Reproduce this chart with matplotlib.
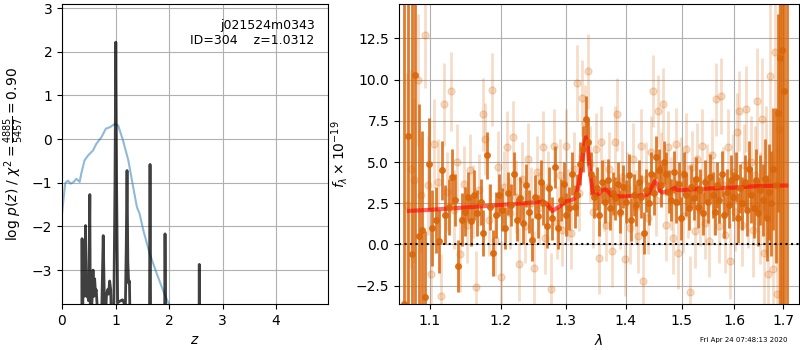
import numpy as np
import matplotlib
matplotlib.use('Agg')
from matplotlib import pyplot as plt
from matplotlib.ticker import FixedLocator, NullLocator, FixedFormatter

# left panel: redshift grid, prior-ish curve (blue) and log p(z) (dark)
z_prior = [0.0, 0.06, 0.11, 0.16, 0.22, 0.27, 0.33, 0.36, 0.42, 0.49, 0.58, 0.64, 0.74,
           0.82, 0.89, 0.99, 1.05, 1.14, 1.24, 1.33, 1.40, 1.45, 1.52, 1.64, 1.77, 1.89, 2.0, 2.05]
lnp_prior = [-1.71, -1.01, -0.95, -1.02, -0.98, -0.91, -0.98, -0.79, -0.49, -0.37, -0.26, -0.11, 0.05,
             0.24, 0.27, 0.35, 0.31, -0.03, -0.49, -1.10, -1.56, -1.71, -2.09, -2.63, -3.08, -3.47, -3.79, -4.0]

z_grid = [0.00, 0.36, 0.37, 0.375, 0.385, 0.39, 0.41, 0.425, 0.44, 0.455, 0.47, 0.48, 0.495, 0.51,
          0.52, 0.53, 0.545, 0.555, 0.58, 0.595, 0.61, 0.625, 0.64, 0.66, 0.69, 0.72, 0.745, 0.77,
          0.79, 0.81, 0.83, 0.85, 0.87, 0.89, 0.91, 0.93, 0.96, 0.99, 1.005, 1.02, 1.04, 1.07, 1.10,
          1.13, 1.16, 1.18, 1.20, 1.215, 1.23, 1.245, 1.26, 1.275, 1.30, 1.40, 1.62, 1.635, 1.645,
          1.655, 1.67, 1.80, 1.905, 1.918, 1.925, 1.935, 1.95, 2.2, 2.55, 2.565, 2.58, 2.8, 4.9]
logpz = [-12, -9, -5, -2.28, -5, -3.5, -3.6, -3.3, -1.98, -3.6, -3.4, -3.55, -3.7, -2.5,
         -1.27, -4.5, -6, -3.9, -3.0, -3.6, -3.2, -3.5, -3.45, -3.9, -6, -5, -3.8, -2.21,
         -3.6, -4.2, -3.6, -3.45, -3.55, -3.25, -3.45, -4.5, -5, -1.0, 2.22, -1.0, -3.75, -3.72, -3.70,
         -3.68, -3.75, -4.2, -2.5, -0.72, -2.8, -3.3, -3.25, -4.5, -7, -9, -8, -4, -0.58,
         -4, -8, -9, -8, -4, -2.17, -4, -8, -10, -8, -2.87, -8, -12, -14]

# right panel: dark (primary) spectrum points
wave_a = [1.066, 1.071, 1.076, 1.080, 1.085, 1.089, 1.094, 1.099, 1.103, 1.108, 1.112, 1.117, 1.121,
          1.126, 1.130, 1.135, 1.139, 1.144, 1.148, 1.153, 1.157, 1.162, 1.166, 1.171, 1.175, 1.180,
          1.184, 1.189, 1.193, 1.198, 1.202, 1.207, 1.211, 1.216, 1.220, 1.225, 1.229, 1.234, 1.238,
          1.243, 1.247, 1.252, 1.256, 1.261, 1.265, 1.270, 1.274, 1.279, 1.283, 1.288, 1.292, 1.297,
          1.301, 1.306, 1.310, 1.315, 1.319, 1.324, 1.328, 1.333, 1.337, 1.342, 1.346, 1.351, 1.355,
          1.360, 1.364, 1.369, 1.373, 1.378, 1.382, 1.387, 1.391, 1.396, 1.400, 1.405, 1.409, 1.414,
          1.418, 1.423, 1.427, 1.432, 1.436, 1.441, 1.445, 1.450, 1.454, 1.459, 1.463, 1.468, 1.472,
          1.477, 1.481, 1.486, 1.490, 1.495, 1.499, 1.504, 1.508, 1.513, 1.517, 1.522, 1.526, 1.531,
          1.535, 1.540, 1.544, 1.549, 1.553, 1.558, 1.562, 1.567, 1.571, 1.576, 1.580, 1.585, 1.589,
          1.594, 1.598, 1.603, 1.607, 1.612, 1.616, 1.621, 1.625, 1.630, 1.634, 1.639, 1.643, 1.648,
          1.652, 1.657, 1.661, 1.666, 1.670, 1.675, 1.679, 1.684, 1.688, 1.693, 1.697, 1.702, 1.707]
flux_a = [-3.6, 6.6, -0.6, 10.3, 0.5, 0.9, -3.2, 4.9, 1.0, 1.5, 0.2, 4.5, 1.8,
          2.3, 4.1, 2.7, -1.3, 1.5, 2.0, 2.9, 1.4, 3.0, 1.9, 2.6, 0.7, 5.4,
          2.3, -0.5, 1.8, 3.0, 2.1, 1.0, 3.1, 2.4, 4.3, 1.5, 2.8, 1.3, 3.6,
          2.0, 0.3, 2.9, 1.7, 3.8, 2.5, 1.1, 3.4, 1.6, 4.7, 1.0, 2.7, 3.7,
          1.8, 2.2, 4.3, 2.3, 3.0, 4.9, 5.8, 7.6, 6.2, 4.3, 2.9, 3.4, 1.8,
          3.8, 2.6, 3.9, 2.2, 3.1, 2.8, 3.7, 2.0, 3.5, 2.6, 4.2, 1.5, 3.0,
          2.4, 3.8, 2.9, 0.7, 3.3, 2.5, 4.3, 3.1, 5.3, 4.5, 3.6, 5.0, 4.3,
          3.2, 2.7, 4.4, 2.6, 3.7, 1.6, 4.3, 3.0, 2.2, 3.5, 2.8, 4.0, 2.3,
          3.3, 1.9, 3.8, 2.6, 4.1, 3.0, 2.0, 3.6, 2.7, 4.3, 1.8, 3.2, 2.4,
          3.9, 2.9, 4.1, 1.6, 3.4, 2.5, 3.8, 2.1, 4.6, 3.0, 2.2, 3.9, 1.9,
          3.3, 2.7, 4.0, 1.6, 3.2, 2.5, 4.6, 3.6, 8.0, 11.3, 11.8, 9.3, -5.0]
err_a = [30, 30, 30, 30, 8, 6, 4, 2.8, 2.3, 2.0, 1.9, 1.8, 1.8,
         1.7, 1.7, 1.6, 1.6, 1.6, 1.5, 1.5, 1.5, 1.5, 1.4, 1.4, 1.4, 1.4,
         1.4, 1.4, 1.4, 1.3, 1.3, 1.3, 1.3, 1.3, 1.3, 1.3, 1.3, 1.3, 1.3,
         1.3, 1.3, 1.3, 1.3, 1.3, 1.3, 1.3, 1.3, 1.3, 1.3, 1.3, 1.3, 1.3,
         1.3, 1.3, 1.3, 1.3, 1.3, 1.3, 1.4, 1.4, 1.4, 1.3, 1.3, 1.3, 1.3,
         1.3, 1.3, 1.3, 1.3, 1.3, 1.3, 1.3, 1.3, 1.3, 1.3, 1.3, 1.3, 1.3,
         1.3, 1.3, 1.3, 1.3, 1.3, 1.3, 1.3, 1.3, 1.3, 1.3, 1.3, 1.3, 1.3,
         1.3, 1.3, 1.3, 1.3, 1.3, 1.3, 1.3, 1.3, 1.3, 1.3, 1.3, 1.3, 1.3,
         1.3, 1.3, 1.3, 1.3, 1.4, 1.4, 1.4, 1.4, 1.4, 1.4, 1.4, 1.4, 1.4,
         1.5, 1.5, 1.5, 1.5, 1.5, 1.6, 1.6, 1.6, 1.7, 1.7, 1.8, 1.9, 2.0,
         2.1, 2.2, 2.4, 2.6, 2.9, 3.2, 3.7, 4.7, 6.0, 30, 30, 30, 30]

# right panel: light (second) spectrum points
wave_b = [1.070, 1.075, 1.079, 1.084, 1.088, 1.093, 1.097, 1.102, 1.106, 1.111, 1.115, 1.120, 1.124,
          1.129, 1.133, 1.138, 1.142, 1.147, 1.151, 1.156, 1.160, 1.165, 1.169, 1.174, 1.178, 1.183,
          1.187, 1.192, 1.196, 1.201, 1.205, 1.210, 1.214, 1.219, 1.223, 1.228, 1.232, 1.237, 1.241,
          1.246, 1.250, 1.255, 1.259, 1.264, 1.268, 1.273, 1.277, 1.282, 1.286, 1.291, 1.295, 1.300,
          1.304, 1.309, 1.313, 1.318, 1.322, 1.327, 1.331, 1.336, 1.340, 1.345, 1.349, 1.354, 1.358,
          1.363, 1.367, 1.372, 1.376, 1.381, 1.385, 1.390, 1.394, 1.399, 1.403, 1.408, 1.412, 1.417,
          1.421, 1.426, 1.430, 1.435, 1.439, 1.444, 1.448, 1.453, 1.457, 1.462, 1.466, 1.471, 1.475,
          1.480, 1.484, 1.489, 1.493, 1.498, 1.502, 1.507, 1.511, 1.516, 1.520, 1.525, 1.529, 1.534,
          1.538, 1.543, 1.547, 1.552, 1.556, 1.561, 1.565, 1.570, 1.574, 1.579, 1.583, 1.588, 1.592,
          1.597, 1.601, 1.606, 1.610, 1.615, 1.619, 1.624, 1.628, 1.633, 1.637, 1.642, 1.646, 1.651,
          1.655, 1.660, 1.664, 1.669, 1.673, 1.678, 1.682, 1.687, 1.691]
flux_b = [2.4, 4.6, 3.9, 10.0, 3.0, 12.7, 3.6, -1.8, 6.1, 3.8, -3.1, 8.5, 3.2,
          9.3, 2.1, 5.0, -0.6, 3.7, 1.2, 4.5, 2.6, -2.6, 3.3, 7.9, 6.4, 1.5,
          9.4, 0.3, 4.7, -2.0, 3.5, 5.9, 1.9, 6.5, 2.9, -1.2, 4.0, 1.1, 5.2,
          2.5, -1.4, 4.4, 2.2, 5.9, 0.4, 3.5, -2.7, 6.0, 1.3, 4.2, 0.9, 6.0,
          2.4, 0.7, 4.6, 9.8, 3.1, 8.9, 7.4, 10.5, 4.9, 2.0, 5.8, -0.8, 6.2,
          3.0, 1.2, 4.6, -0.4, 6.2, 7.9, 1.9, 4.1, -0.9, 3.4, 1.0, 5.2, 2.3,
          0.5, 6.0, -2.2, 4.0, 1.6, 5.6, 9.3, 2.7, 8.1, 4.6, 8.5, 1.2, 5.9,
          3.1, 0.4, 6.1, -0.5, 4.3, 1.7, 5.8, 2.6, -2.9, 4.7, 0.8, 5.2, 2.1,
          6.0, 1.3, 3.9, 0.2, 5.4, 2.8, 8.8, 1.1, 9.0, 3.6, 0.6, 5.9, -1.0,
          4.4, 2.0, 6.8, 8.1, 1.2, 4.8, 8.2, 2.5, 5.0, 0.9, 4.2, 8.7, 2.2,
          7.6, -0.5, 3.9, -1.8, 10.2, -1.5, 11.7, -3.0, 7.0]
err_b = [8, 6, 5, 4, 3.5, 3.2, 3.0, 2.8, 2.7, 2.6, 2.5, 2.5, 2.4,
         2.4, 2.4, 2.3, 2.3, 2.3, 2.3, 2.2, 2.2, 2.2, 2.2, 2.2, 2.2, 2.2,
         2.2, 2.2, 2.2, 2.2, 2.2, 2.2, 2.2, 2.2, 2.2, 2.2, 2.2, 2.2, 2.2,
         2.2, 2.2, 2.2, 2.2, 2.2, 2.2, 2.2, 2.2, 2.2, 2.2, 2.2, 2.2, 2.2,
         2.2, 2.2, 2.2, 2.3, 2.3, 2.3, 2.3, 2.3, 2.3, 2.2, 2.2, 2.2, 2.2,
         2.2, 2.2, 2.2, 2.2, 2.2, 2.2, 2.2, 2.2, 2.2, 2.2, 2.2, 2.2, 2.2,
         2.2, 2.2, 2.2, 2.2, 2.2, 2.2, 2.2, 2.2, 2.2, 2.2, 2.2, 2.2, 2.2,
         2.2, 2.2, 2.2, 2.2, 2.2, 2.2, 2.2, 2.2, 2.2, 2.2, 2.2, 2.2, 2.2,
         2.2, 2.2, 2.2, 2.2, 2.2, 2.2, 2.2, 2.2, 2.3, 2.3, 2.3, 2.3, 2.3,
         2.3, 2.4, 2.4, 2.4, 2.5, 2.5, 2.6, 2.7, 2.8, 2.9, 3.0, 3.2, 3.4,
         3.7, 4.0, 4.5, 5, 6, 7, 8, 9, 12]

# best-fit model
wave_m = [1.072, 1.10, 1.15, 1.20, 1.25, 1.265, 1.27, 1.279, 1.29, 1.30, 1.31, 1.315, 1.32, 1.325,
          1.33, 1.333, 1.336, 1.34, 1.345, 1.35, 1.355, 1.36, 1.366, 1.37, 1.375, 1.38, 1.39, 1.40,
          1.42, 1.435, 1.44, 1.445, 1.451, 1.457, 1.46, 1.465, 1.47, 1.475, 1.48, 1.487, 1.492, 1.50,
          1.52, 1.55, 1.60, 1.65, 1.706]
flux_m = [2.04, 2.1, 2.25, 2.4, 2.55, 2.6, 2.5, 2.03, 2.3, 2.6, 2.7, 2.8, 3.4, 4.5,
          6.0, 6.5, 6.0, 4.3, 3.1, 3.0, 3.1, 3.3, 3.34, 3.2, 3.0, 2.95, 2.92, 2.92,
          2.95, 3.0, 3.1, 3.4, 3.84, 3.6, 3.25, 3.15, 3.2, 3.2, 3.3, 3.45, 3.3, 3.3,
          3.35, 3.4, 3.45, 3.55, 3.58]

lam_ticks = [1.1, 1.2, 1.3, 1.4, 1.5, 1.6, 1.7]

orange = (0.85, 0.40, 0.04)

fig = plt.figure(figsize=(8, 3.5), dpi=100)

ax = fig.add_axes([0.0775, 0.131, 0.3325, 0.857])
ax.plot(z_prior, lnp_prior, color='C0', alpha=0.5, lw=1.5)
ax.plot(z_grid, logpz, color='k', alpha=0.75, lw=2)
ax.set_xlim(0, 4.97)
ax.set_ylim(-3.78, 3.09)
ax.set_xlabel('$z$')
ax.set_ylabel(r'log $p(z)$ / $\chi^2=\frac{4885}{5457}=0.90$')
ax.text(0.95, 0.95, 'j021524m0343\nID=304    z=1.0312', ha='right', va='top',
        transform=ax.transAxes, fontsize=9)
ax.grid()

ax2 = fig.add_axes([0.49875, 0.131, 0.5, 0.857])
ax2.errorbar(wave_b, flux_b, yerr=err_b, marker='o', linestyle='none', color=orange,
             alpha=0.22, markersize=5, elinewidth=2)
ax2.errorbar(wave_a, flux_a, yerr=err_a, marker='o', linestyle='none', color=orange,
             alpha=0.85, markersize=4, elinewidth=2)
ax2.plot(wave_m, flux_m, color='r', alpha=0.6, lw=3)
ax2.axhline(0, color='k', linestyle=':', lw=1.5)
ax2.set_xscale('log')
ax2.set_xlim(1.059, 1.733)
ax2.set_ylim(-3.62, 14.58)
ax2.xaxis.set_major_locator(FixedLocator(lam_ticks))
ax2.xaxis.set_major_formatter(FixedFormatter(['%.1f' % t for t in lam_ticks]))
ax2.xaxis.set_minor_locator(NullLocator())
ax2.set_xlabel(r'$\lambda$')
ax2.set_ylabel(r'$f_\lambda \times 10^{-19}$')
ax2.grid()

fig.text(0.985, 0.02, 'Fri Apr 24 07:48:13 2020', ha='right', va='bottom', fontsize=5)

fig.savefig('out.png')
